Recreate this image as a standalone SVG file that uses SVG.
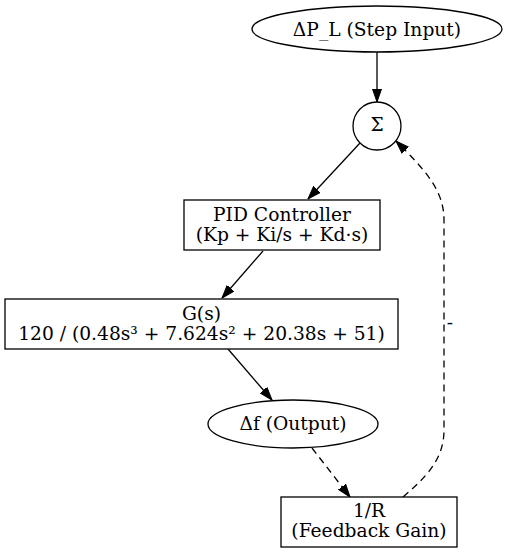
<svg xmlns="http://www.w3.org/2000/svg" width="507" height="553" viewBox="0 0 507 553">
<defs>
<marker id="ah" markerWidth="13" markerHeight="10" refX="13" refY="5" orient="auto" markerUnits="userSpaceOnUse">
<polygon points="0,0.5 13,5 0,9.5" fill="#000" stroke="#000"/>
</marker>
<style>
.n{fill:#fff;stroke:#000;stroke-width:1.3}
.t{font-family:"DejaVu Serif",serif;font-size:18.67px;fill:#000;text-anchor:middle}
.e{fill:none;stroke:#000;stroke-width:1.3;marker-end:url(#ah)}
.d{stroke-dasharray:7,5}
</style>
</defs>
<rect width="507" height="553" fill="#fff"/>
<g id="edges">
<path class="e" d="M377,52 L377,102"/>
<path class="e" d="M360,143 L308,199"/>
<path class="e" d="M263,251 L222,298"/>
<path class="e" d="M228,349 L272,400"/>
<path class="e d" d="M312,448 L350,497"/>
<path class="e d" d="M403,497 C425,478 444,460 444,430 L444,220 C444,190 425,170 396,141"/>
<text class="t" x="450" y="329">-</text>
</g>
<g id="dpl">
<ellipse class="n" cx="377" cy="29" rx="125" ry="23"/>
<text class="t" x="377" y="35.5">ΔP_L (Step Input)</text>
</g>
<g id="sum">
<circle class="n" cx="377" cy="126" r="24"/>
<text class="t" x="377" y="131">Σ</text>
</g>
<g id="pid">
<rect class="n" x="184" y="200" width="196" height="50"/>
<text class="t" x="282" y="221">PID Controller</text>
<text class="t" x="282" y="241">(Kp + Ki/s + Kd·s)</text>
</g>
<g id="gs">
<rect class="n" x="5" y="299" width="393" height="50"/>
<text class="t" x="201.5" y="320">G(s)</text>
<text class="t" x="201.5" y="340">120 / (0.48s³ + 7.624s² + 20.38s + 51)</text>
</g>
<g id="df">
<ellipse class="n" cx="293" cy="424" rx="85" ry="24"/>
<text class="t" x="293" y="430">Δf (Output)</text>
</g>
<g id="r">
<rect class="n" x="281" y="497" width="176" height="50"/>
<text class="t" x="369" y="517">1/R</text>
<text class="t" x="369" y="537">(Feedback Gain)</text>
</g>
</svg>
